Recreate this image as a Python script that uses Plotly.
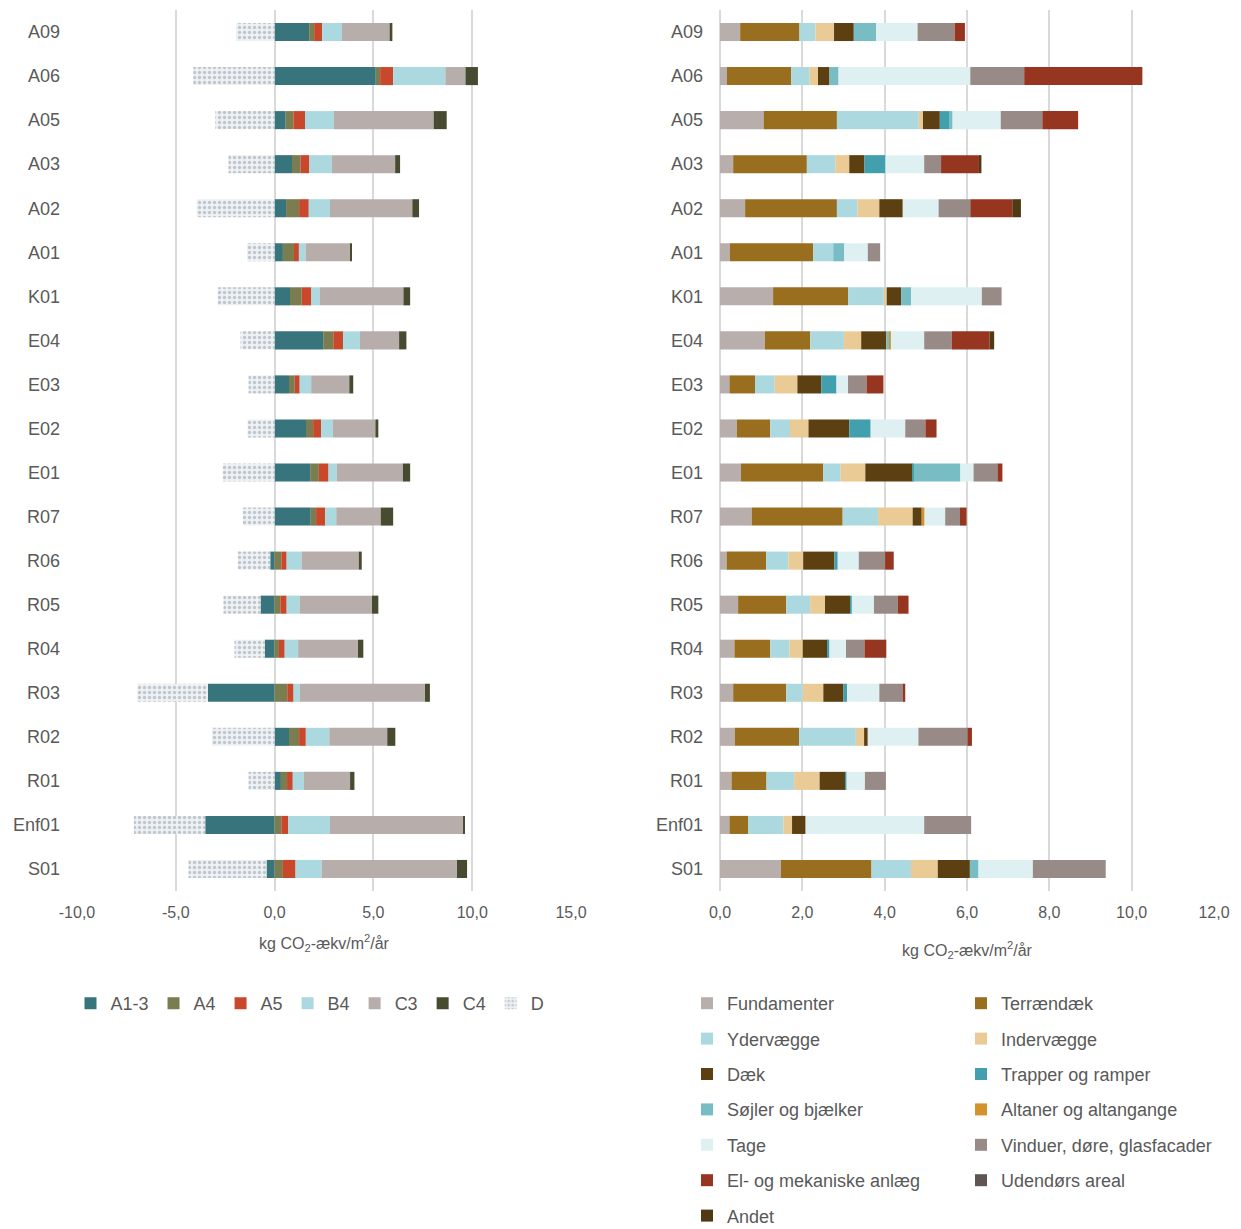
import plotly.graph_objects as go
from plotly.subplots import make_subplots

cats = ["A09", "A06", "A05", "A03", "A02", "A01", "K01", "E04", "E03", "E02",
        "E01", "R07", "R06", "R05", "R04", "R03", "R02", "R01", "Enf01", "S01"]

# Left chart: life-cycle stages (kg CO2-eq/m2/yr)
A1_3 = [1.75, 5.12, 0.56, 0.88, 0.58, 0.42, 0.78, 2.46, 0.73, 1.59, 1.80, 1.83, -0.22, -0.71, -0.49, -3.37, 0.73, 0.32, -3.51, -0.41]
A4 = [0.25, 0.22, 0.39, 0.44, 0.66, 0.56, 0.59, 0.51, 0.29, 0.36, 0.44, 0.27, 0.34, 0.29, 0.22, 0.64, 0.51, 0.31, 0.34, 0.42]
A5 = [0.41, 0.66, 0.59, 0.44, 0.49, 0.25, 0.49, 0.49, 0.25, 0.41, 0.49, 0.46, 0.27, 0.32, 0.29, 0.32, 0.34, 0.29, 0.34, 0.64]
B4 = [1.00, 2.64, 1.46, 1.14, 1.07, 0.34, 0.42, 0.86, 0.58, 0.59, 0.42, 0.56, 0.75, 0.66, 0.68, 0.31, 1.19, 0.56, 2.12, 1.32]
C3 = [2.41, 1.02, 5.05, 3.20, 4.17, 2.27, 4.24, 1.98, 1.93, 2.15, 3.34, 2.25, 2.90, 3.66, 3.03, 6.34, 2.93, 2.34, 6.75, 6.85]
C4 = [0.14, 0.63, 0.66, 0.25, 0.34, 0.03, 0.34, 0.37, 0.20, 0.15, 0.37, 0.63, 0.15, 0.32, 0.27, 0.25, 0.41, 0.22, 0.07, 0.51]
D = [-1.95, -4.12, -3.00, -2.34, -3.95, -1.39, -2.88, -1.73, -1.32, -1.37, -2.63, -1.61, -1.64, -1.88, -1.54, -3.58, -3.17, -1.32, -3.61, -3.95]

# Right chart: building parts (kg CO2-eq/m2/yr)
Fundamenter = [0.49, 0.17, 1.06, 0.32, 0.61, 0.24, 1.29, 1.09, 0.23, 0.41, 0.51, 0.77, 0.16, 0.44, 0.35, 0.32, 0.36, 0.28, 0.23, 1.48]
Terraendaek = [1.44, 1.56, 1.78, 1.79, 2.23, 2.02, 1.82, 1.10, 0.62, 0.81, 2.00, 2.21, 0.96, 1.17, 0.87, 1.29, 1.56, 0.85, 0.45, 2.20]
Ydervaegge = [0.39, 0.45, 1.99, 0.69, 0.50, 0.49, 0.87, 0.82, 0.48, 0.48, 0.42, 0.86, 0.54, 0.58, 0.47, 0.40, 1.38, 0.67, 0.86, 0.96]
Indervaegge = [0.45, 0.20, 0.10, 0.34, 0.53, 0.00, 0.07, 0.42, 0.55, 0.45, 0.60, 0.84, 0.36, 0.36, 0.32, 0.50, 0.20, 0.62, 0.21, 0.65]
Daek = [0.48, 0.28, 0.41, 0.37, 0.57, 0.00, 0.35, 0.61, 0.58, 0.99, 1.15, 0.22, 0.76, 0.61, 0.61, 0.49, 0.09, 0.62, 0.33, 0.78]
Trapper = [0.00, 0.00, 0.24, 0.51, 0.00, 0.00, 0.00, 0.00, 0.37, 0.52, 0.03, 0.00, 0.08, 0.04, 0.04, 0.09, 0.00, 0.03, 0.00, 0.00]
Sojler = [0.54, 0.22, 0.07, 0.00, 0.00, 0.27, 0.24, 0.07, 0.00, 0.00, 1.13, 0.00, 0.00, 0.00, 0.00, 0.00, 0.00, 0.00, 0.00, 0.21]
Altaner = [0.00, 0.00, 0.00, 0.00, 0.00, 0.00, 0.00, 0.04, 0.00, 0.00, 0.00, 0.07, 0.00, 0.00, 0.00, 0.00, 0.00, 0.00, 0.00, 0.00]
Tage = [1.01, 3.20, 1.17, 0.94, 0.87, 0.57, 1.72, 0.81, 0.28, 0.84, 0.32, 0.50, 0.51, 0.54, 0.40, 0.78, 1.23, 0.45, 2.88, 1.32]
Vinduer = [0.90, 1.31, 1.01, 0.41, 0.77, 0.30, 0.48, 0.67, 0.45, 0.49, 0.58, 0.36, 0.64, 0.58, 0.45, 0.59, 1.19, 0.51, 1.14, 1.77]
El = [0.25, 2.87, 0.87, 0.92, 1.02, 0.00, 0.00, 0.92, 0.41, 0.27, 0.12, 0.16, 0.21, 0.26, 0.53, 0.04, 0.11, 0.00, 0.00, 0.00]
Udendors = [0.0] * 20
Andet = [0.00, 0.00, 0.00, 0.06, 0.21, 0.00, 0.00, 0.11, 0.00, 0.00, 0.00, 0.00, 0.00, 0.00, 0.00, 0.00, 0.00, 0.00, 0.00, 0.00]

# Tick labels
left_tickvals = [-10, -5, 0, 5, 10, 15]
left_ticktext = ["-10,0", "-5,0", "0,0", "5,0", "10,0", "15,0"]
right_tickvals = [0, 2, 4, 6, 8, 10, 12]
right_ticktext = ["0,0", "2,0", "4,0", "6,0", "8,0", "10,0", "12,0"]

left_series = [
    ("A1-3", A1_3, "#38747B"),
    ("A4", A4, "#7A7D4F"),
    ("A5", A5, "#C9472A"),
    ("B4", B4, "#ABD9DF"),
    ("C3", C3, "#B7AEAB"),
    ("C4", C4, "#474C31"),
]

right_series = [
    ("Fundamenter", Fundamenter, "#B8AEAB", "legend2"),
    ("Terrændæk", Terraendaek, "#9A6E1F", "legend3"),
    ("Ydervægge", Ydervaegge, "#ABD9DF", "legend2"),
    ("Indervægge", Indervaegge, "#EACB95", "legend3"),
    ("Dæk", Daek, "#5C4012", "legend2"),
    ("Trapper og ramper", Trapper, "#42A0AE", "legend3"),
    ("Søjler og bjælker", Sojler, "#78BCC4", "legend2"),
    ("Altaner og altangange", Altaner, "#D4922C", "legend3"),
    ("Tage", Tage, "#DEF0F2", "legend2"),
    ("Vinduer, døre, glasfacader", Vinduer, "#988A86", "legend3"),
    ("El- og mekaniske anlæg", El, "#963520", "legend2"),
    ("Udendørs areal", Udendors, "#5F5552", "legend3"),
    ("Andet", Andet, "#4F3A14", "legend2"),
]

FONT = "Liberation Sans, Arial, sans-serif"
TXT = "#595959"
GRID = "#D9D9D9"

fig = make_subplots(rows=1, cols=2)

for name, vals, col in left_series:
    fig.add_trace(go.Bar(y=cats, x=vals, name=name, orientation="h",
                         marker=dict(color=col, line=dict(width=0)),
                         legend="legend"), row=1, col=1)
fig.add_trace(go.Bar(y=cats, x=D, name="D", orientation="h",
                     marker=dict(color="#EEF1F4", line=dict(width=0),
                                 pattern=dict(shape=".", fgcolor="#8E9BA8", bgcolor="#EEF1F4",
                                              size=5, solidity=0.35)),
                     legend="legend"), row=1, col=1)

for name, vals, col, lg in right_series:
    fig.add_trace(go.Bar(y=cats, x=vals, name=name, orientation="h",
                         marker=dict(color=col, line=dict(width=0)),
                         legend=lg, legendgroup=name), row=1, col=2)

W, H = 1241, 1229
OFF = 8  # page body margin offset
ytop, ybot = 10 - OFF, 891 - OFF


def px_x(p):
    return (p - OFF) / W


def px_y(p):
    return 1 - (p - OFF) / H


title_text = "kg CO<sub>2</sub>-ækv/m<sup>2</sup>/år"


def xax(domain, rng, tv, tt, standoff):
    return dict(domain=domain, range=rng, tickvals=tv, ticktext=tt, automargin=False,
                showgrid=True, gridcolor=GRID, gridwidth=2, zeroline=True,
                zerolinecolor=GRID, zerolinewidth=2, showline=False, ticks="",
                ticklabelstandoff=10,
                tickfont=dict(size=16, color=TXT, family=FONT),
                title=dict(text=title_text, standoff=standoff,
                           font=dict(size=16, color=TXT, family=FONT)))


def yax():
    return dict(domain=[1 - ybot / H, 1 - ytop / H], autorange="reversed", showgrid=False,
                automargin=False, ticks="", ticklabelstandoff=16,
                tickfont=dict(size=18, color=TXT, family=FONT))


leg_font = dict(size=18, color=TXT, family=FONT)
leg_top = px_y(985)

fig.update_layout(
    width=W, height=H,
    margin=dict(l=0, r=0, t=0, b=0, autoexpand=False),
    paper_bgcolor="white", plot_bgcolor="white",
    barmode="relative", bargap=0.59,
    separators=",.",
    font=dict(family=FONT, color=TXT, size=16),
    xaxis=xax([px_x(77), px_x(571)], [-10, 15], left_tickvals, left_ticktext, 17),
    xaxis2=xax([px_x(720), px_x(1214)], [0, 12], right_tickvals, right_ticktext, 24),
    yaxis=yax(),
    yaxis2=yax(),
    legend=dict(orientation="h", x=px_x(310), xanchor="center", y=leg_top, yanchor="top",
                traceorder="normal", font=leg_font, bgcolor="rgba(0,0,0,0)", itemwidth=30),
    legend2=dict(orientation="v", x=px_x(687), xanchor="left", y=leg_top, yanchor="top",
                 traceorder="grouped", tracegroupgap=9, font=leg_font,
                 bgcolor="rgba(0,0,0,0)", itemwidth=30),
    legend3=dict(orientation="v", x=px_x(961), xanchor="left", y=leg_top, yanchor="top",
                 traceorder="grouped", tracegroupgap=9, font=leg_font,
                 bgcolor="rgba(0,0,0,0)", itemwidth=30),
)

fig.write_html("out.html")
